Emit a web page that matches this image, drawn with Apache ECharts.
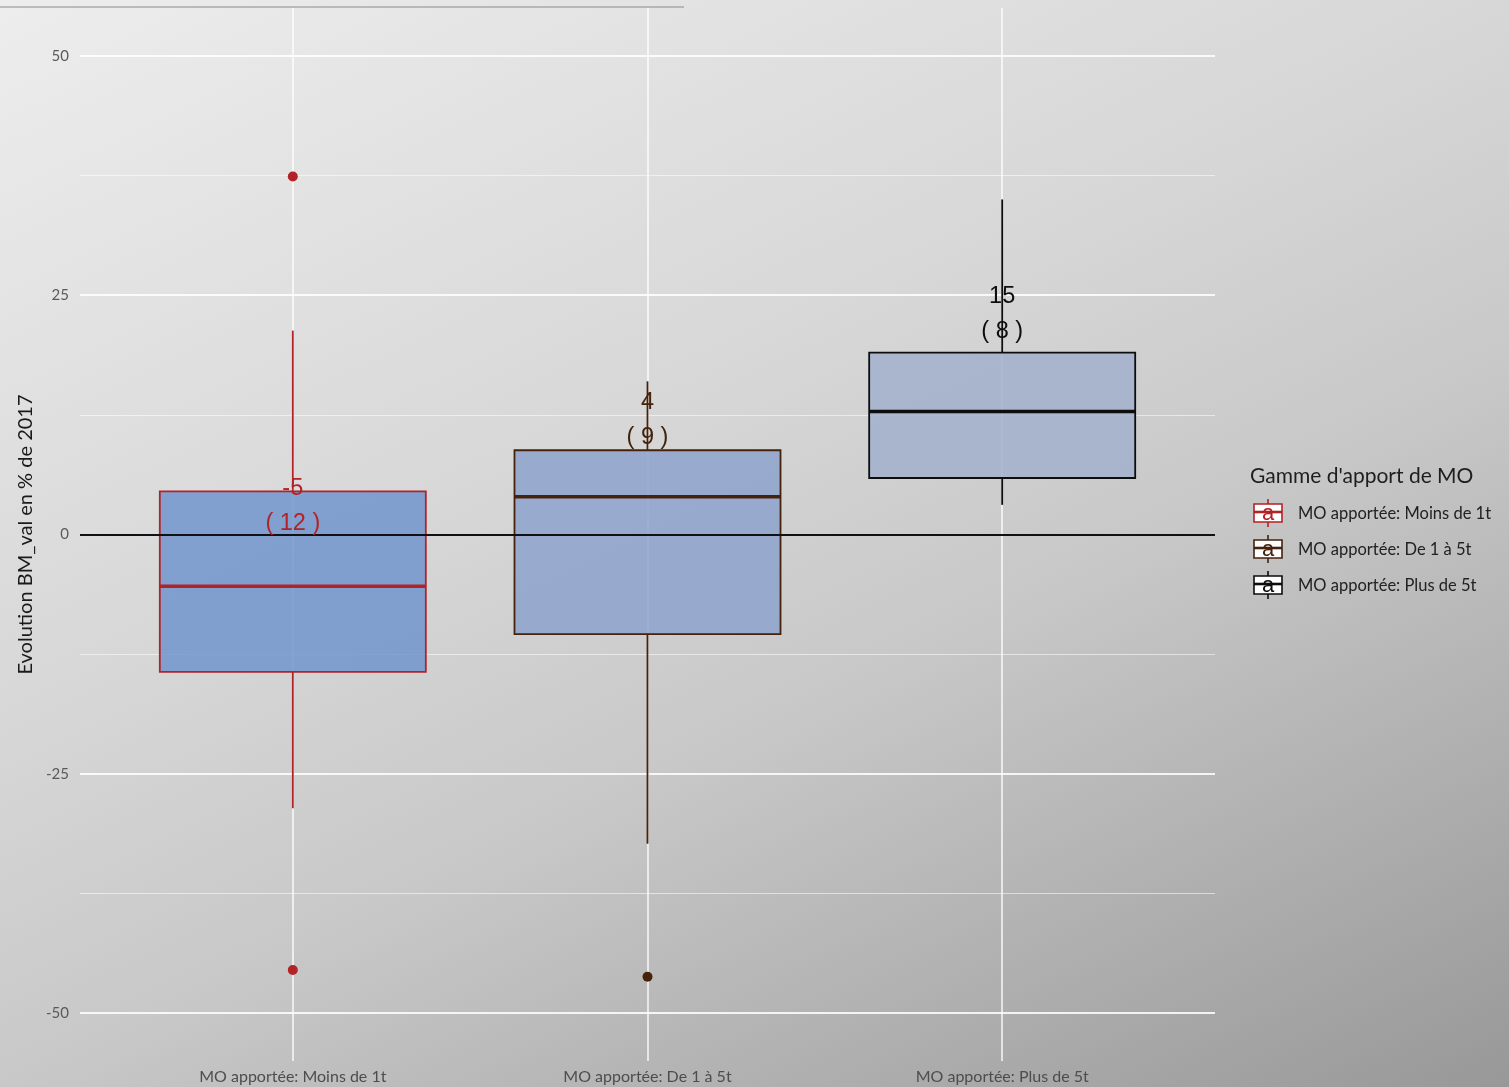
<!DOCTYPE html>
<html>
<head>
<meta charset="utf-8">
<title>Evolution BM_val</title>
<script src="https://cdn.jsdelivr.net/npm/echarts@6/dist/echarts.min.js"></script>
<style>
  html, body { margin: 0; padding: 0; }
  #chart { width: 1509px; height: 1087px; }
</style>
</head>
<body>
<div id="chart"></div>
<script>
// ---- data ----
const categories = ['MO apportée: Moins de 1t', 'MO apportée: De 1 à 5t', 'MO apportée: Plus de 5t'];
// [lower whisker, Q1, median, Q3, upper whisker]
const boxStats = [
  [-28.6, -14.35, -5.4, 4.5, 21.3],
  [-32.3, -10.4, 3.95, 8.8, 16.0],
  [3.1, 5.9, 12.85, 19.0, 35.0]
];
// [category index, value]
const outliers = [[0, 37.4], [0, -45.5], [1, -46.2]];
const means = [-5, 4, 15];
const counts = [12, 9, 8];
const yTickValues = [-50, -25, 0, 25, 50];
const yMinorValues = [-37.5, -12.5, 12.5, 37.5];
const legendTitle = "Gamme d'apport de MO";
const yTitle = 'Evolution BM_val en % de 2017';

// ---- styles ----
const boxStyles = [
  { line: '#b22226', fill: 'rgba(113,149,205,0.85)' },
  { line: '#45220c', fill: 'rgba(141,163,205,0.85)' },
  { line: '#0d0d0d', fill: 'rgba(161,176,203,0.85)' }
];
const uiFont = 'Lato, "Open Sans", sans-serif';
const labelFont = '"Liberation Sans", Arial, sans-serif';
const labelLift = 8; // annotation sits above the group mean

const chart = echarts.init(document.getElementById('chart'), null, { renderer: 'canvas' });

const majorStyle = { color: 'rgba(255,255,255,0.85)', width: 2, type: 'solid' };
const minorStyle = { color: 'rgba(255,255,255,0.55)', width: 1, type: 'solid' };
const vertStyle = { color: 'rgba(255,255,255,0.85)', width: 1.6, type: 'solid' };
const gridLines = [
  ...yTickValues.map(v => ({ yAxis: v, lineStyle: majorStyle })),
  ...yMinorValues.map(v => ({ yAxis: v, lineStyle: minorStyle })),
  ...categories.map((c, i) => ({ xAxis: i, lineStyle: vertStyle }))
];

// legend drawn as boxplot keys
const legendGraphics = [{
  type: 'text',
  style: { text: legendTitle, x: 1250, y: 476, verticalAlign: 'middle', font: '21px ' + uiFont, fill: '#1e1e1e' }
}];
categories.forEach((name, i) => {
  const cy = 513 + i * 36;
  const c = boxStyles[i].line;
  legendGraphics.push({
    type: 'group',
    children: [
      { type: 'line', shape: { x1: 1268, y1: cy - 14, x2: 1268, y2: cy + 14 }, style: { stroke: c, lineWidth: 1.6 } },
      { type: 'rect', shape: { x: 1254, y: cy - 9, width: 28, height: 18 }, style: { fill: '#ffffff', stroke: c, lineWidth: 1.6 } },
      { type: 'line', shape: { x1: 1254, y1: cy - 1, x2: 1282, y2: cy - 1 }, style: { stroke: c, lineWidth: 2.6 } },
      { type: 'text', style: { text: 'a', x: 1268, y: cy + 1, align: 'center', verticalAlign: 'middle', font: '22px ' + labelFont, fill: c } },
      { type: 'text', style: { text: name, x: 1298, y: cy + 1, verticalAlign: 'middle', font: '16.5px ' + uiFont, fill: '#222222' } }
    ]
  });
});

const option = {
  animation: false,
  graphic: [
    {
      type: 'rect', z: -10, silent: true,
      shape: { x: 0, y: 0, width: 1509, height: 1087 },
      style: {
        fill: new echarts.graphic.LinearGradient(0, 0, 0.4685, 1.354, [
          { offset: 0, color: '#ededed' },
          { offset: 0.4, color: '#d7d7d7' },
          { offset: 0.6, color: '#c8c8c8' },
          { offset: 1, color: '#989898' }
        ])
      }
    },
    { type: 'line', z: 10, shape: { x1: 0, y1: 7, x2: 684, y2: 7 }, style: { stroke: '#8a8a8a', lineWidth: 1 } },
    ...legendGraphics
  ],
  grid: { left: 80, right: 294, top: 8, bottom: 26, containLabel: false },
  xAxis: {
    type: 'value', min: -0.6, max: 2.6,
    axisLine: { show: false }, axisTick: { show: false }, splitLine: { show: false },
    axisLabel: {
      customValues: [0, 1, 2],
      formatter: v => categories[Math.round(v)] || '',
      fontSize: 16, color: '#4d4d4d', fontFamily: uiFont, margin: 8
    }
  },
  yAxis: {
    type: 'value', min: -55, max: 55,
    name: yTitle, nameLocation: 'middle', nameGap: 44,
    nameTextStyle: { fontSize: 20, color: '#1a1a1a', fontFamily: uiFont },
    axisLine: { show: false }, axisTick: { show: false }, splitLine: { show: false },
    axisLabel: { customValues: yTickValues, fontSize: 15, color: '#5a5a5a', fontFamily: uiFont, margin: 11 }
  },
  series: [
    {
      // panel grid
      type: 'scatter', z: 1, data: [], silent: true,
      markLine: { z: 1, silent: true, symbol: 'none', label: { show: false }, data: gridLines }
    },
    {
      type: 'custom', z: 3,
      data: boxStats.map((s, i) => [i, ...s]),
      encode: { x: 0, y: [1, 2, 3, 4, 5] },
      renderItem: (params, api) => {
        const i = api.value(0);
        const lo = api.coord([i, api.value(1)]);
        const q1 = api.coord([i, api.value(2)]);
        const md = api.coord([i, api.value(3)]);
        const q3 = api.coord([i, api.value(4)]);
        const hi = api.coord([i, api.value(5)]);
        const bw = api.size([0.75, 0])[0];
        const x = lo[0];
        const st = boxStyles[i];
        return {
          type: 'group',
          children: [
            { type: 'line', shape: { x1: x, y1: hi[1], x2: x, y2: q3[1] }, style: { stroke: st.line, lineWidth: 1.8 } },
            { type: 'line', shape: { x1: x, y1: q1[1], x2: x, y2: lo[1] }, style: { stroke: st.line, lineWidth: 1.8 } },
            { type: 'rect', shape: { x: x - bw / 2, y: q3[1], width: bw, height: q1[1] - q3[1] }, style: { fill: st.fill, stroke: st.line, lineWidth: 1.8 } },
            { type: 'line', shape: { x1: x - bw / 2, y1: md[1], x2: x + bw / 2, y2: md[1] }, style: { stroke: st.line, lineWidth: 3.6 } }
          ]
        };
      }
    },
    {
      // outliers + zero reference line
      type: 'scatter', z: 5,
      symbolSize: 10,
      itemStyle: { opacity: 1 },
      data: outliers.map(o => ({ value: o, itemStyle: { color: boxStyles[o[0]].line, opacity: 1 } })),
      markLine: {
        z: 5, silent: true, symbol: 'none', label: { show: false },
        lineStyle: { color: '#111111', width: 2.2, type: 'solid' },
        data: [{ yAxis: 0 }]
      }
    },
    {
      // mean and group size annotations
      type: 'scatter', z: 6, symbolSize: 0, silent: true,
      itemStyle: { opacity: 1 },
      data: means.map((m, i) => ({
        value: [i, m + labelLift, m, counts[i]],
        label: { color: boxStyles[i].line }
      })),
      label: {
        show: true, position: 'inside',
        formatter: p => p.value[2] + '\n( ' + p.value[3] + ' )',
        fontSize: 23.5, lineHeight: 35, fontFamily: labelFont, align: 'center'
      }
    }
  ]
};

chart.setOption(option);
</script>
</body>
</html>
